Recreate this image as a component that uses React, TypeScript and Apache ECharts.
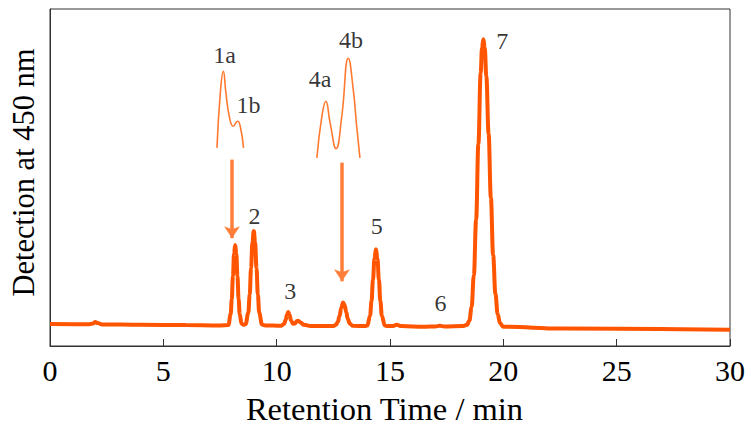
import React, { useEffect, useRef } from "react";
import * as echarts from "echarts";

// Main chromatogram trace: [retention time (min), detector signal (a.u.)]
const mainTrace: [number, number][] = [
  [0, 6.5], [1.7, 6.45], [1.9, 6.7], [2.0, 7.1], [2.1, 6.8], [2.3, 6.4], [4, 6.3], [6, 6.2], [7.5, 6.1],
  [7.87, 6.2], [7.97, 9.4], [8.02, 13.9], [8.07, 20.7], [8.12, 27.4], [8.17, 30.0], [8.22, 27.4],
  [8.27, 20.7], [8.32, 13.9], [8.37, 9.4], [8.45, 6.6], [8.54, 6.3], [8.63, 6.5], [8.75, 9.9],
  [8.81, 15.2], [8.87, 23.1], [8.93, 30.8], [8.99, 34.1], [9.05, 30.8], [9.11, 23.1], [9.17, 15.2],
  [9.23, 9.9], [9.35, 6.4], [9.5, 6.1], [10.2, 6.0], [10.33, 6.6], [10.4, 7.8], [10.45, 9.2],
  [10.51, 10.1], [10.57, 9.2], [10.63, 7.6], [10.72, 6.6], [10.8, 6.7], [10.9, 7.4], [10.95, 7.5],
  [11.05, 7.0], [11.2, 6.3], [11.5, 5.9], [12.5, 5.9], [12.62, 6.3], [12.7, 7.2], [12.77, 8.8],
  [12.85, 11.3], [12.93, 12.9], [13.0, 12.1], [13.07, 10.0], [13.14, 8.0], [13.22, 6.7], [13.35, 6.0],
  [13.9, 5.9], [14.0, 6.1], [14.12, 9.0], [14.185, 13.3], [14.25, 19.7], [14.315, 26.0], [14.38, 28.7],
  [14.445, 26.0], [14.51, 19.7], [14.575, 13.3], [14.64, 9.0], [14.77, 6.1], [14.9, 5.9], [15.1, 5.9],
  [15.3, 6.3], [15.5, 5.9], [16.5, 5.7], [17.0, 5.8], [17.2, 6.0], [17.4, 5.8], [18.2, 5.9],
  [18.4, 6.3], [18.5, 7.5], [18.6, 11.5], [18.7, 21], [18.8, 37.5], [18.9, 60], [19.0, 81],
  [19.06, 88.5], [19.12, 91], [19.18, 88.5], [19.25, 80], [19.35, 63], [19.45, 44], [19.55, 27],
  [19.65, 15.5], [19.75, 9.5], [19.85, 6.8], [20.0, 5.7], [22.6, 5.2], [30, 4.8],
];

// Enlarged insets (drawn in the same axis frame)
const inset1: [number, number][] = [
  [7.366, 58.8], [7.515, 75.1], [7.647, 81.5], [7.761, 75.1], [7.911, 68.1],
  [8.086, 65.2], [8.275, 66.7], [8.393, 65.2], [8.538, 58.8],
];
const inset4: [number, number][] = [
  [11.774, 55.8], [11.993, 68.1], [12.169, 72.6], [12.357, 66.2], [12.621, 58.6],
  [12.871, 68.1], [13.161, 85.4], [13.38, 76.0], [13.53, 65.2], [13.674, 55.8],
];

// Arrows: [x, yStart, yEnd]
const arrows: [number, number, number][] = [
  [8.03, 55.3, 32.0],
  [12.88, 54.4, 19.2],
];

// Peak annotations
const peakLabels: string[] = ["1a", "1b", "4a", "4b", "2", "3", "5", "6", "7"];
const peakLabelPos: [number, number][] = [
  [7.7, 86.4], [8.76, 71.6], [11.92, 79.3], [13.28, 90.8], [9.02, 38.5],
  [10.6, 16.4], [14.42, 35.5], [17.23, 12.7], [19.95, 90.5],
];

const xTicks = { min: 0, max: 30, interval: 5 };

const FONT = "Liberation Serif";

export default function App() {
  const ref = useRef<HTMLDivElement>(null);
  useEffect(() => {
    if (!ref.current) return;
    const chart = echarts.init(ref.current, undefined, { renderer: "svg" });
    chart.setOption({
      animation: false,
      backgroundColor: "#ffffff",
      textStyle: { fontFamily: FONT },
      grid: {
        left: 46.5,
        right: 21,
        top: 9,
        bottom: 83,
        show: true,
        borderColor: "#333",
        borderWidth: 1,
        backgroundColor: "transparent",
      },
      xAxis: {
        type: "value",
        min: xTicks.min,
        max: xTicks.max,
        interval: xTicks.interval,
        name: "Retention Time / min",
        nameLocation: "middle",
        nameGap: 46,
        nameTextStyle: { fontFamily: FONT, fontSize: 32.5, color: "#000", padding: [0, 11, 0, 0] },
        axisLine: { show: true, lineStyle: { color: "#333", width: 1 } },
        axisTick: { show: true, inside: true, length: 7, lineStyle: { color: "#333", width: 1 } },
        axisLabel: { fontFamily: FONT, fontSize: 30, color: "#000", margin: 9 },
        splitLine: { show: false },
      },
      yAxis: {
        type: "value",
        min: 0,
        max: 100,
        name: "Detection at 450 nm",
        nameLocation: "middle",
        nameGap: 11,
        nameTextStyle: { fontFamily: FONT, fontSize: 30.5, color: "#000", padding: [0, 0, 0, 10] },
        axisLine: { show: true, lineStyle: { color: "#333", width: 1 } },
        axisTick: { show: false },
        axisLabel: { show: false },
        splitLine: { show: false },
      },
      series: [
        {
          type: "line",
          data: mainTrace,
          showSymbol: false,
          smooth: 0.4,
          smoothMonotone: "x",
          lineStyle: { color: "#FF5500", width: 4 },
          silent: true,
          markLine: {
            silent: true,
            symbol: ["none", "arrow"],
            symbolSize: 12,
            label: { show: false },
            lineStyle: { color: "#FF7F3A", width: 3.5, type: "solid" },
            data: arrows.map(([x, y0, y1]) => [
              { coord: [x, y0] },
              { coord: [x, y1] },
            ]),
          },
        },
        {
          type: "line",
          data: inset1,
          showSymbol: false,
          smooth: 0.5,
          lineStyle: { color: "#FF7A30", width: 1.6 },
          silent: true,
        },
        {
          type: "line",
          data: inset4,
          showSymbol: false,
          smooth: 0.5,
          lineStyle: { color: "#FF7A30", width: 1.6 },
          silent: true,
        },
        {
          type: "scatter",
          data: peakLabelPos.map((p, i) => ({ value: p, name: peakLabels[i] })),
          symbolSize: 1,
          itemStyle: { color: "transparent" },
          silent: true,
          label: {
            show: true,
            position: "inside",
            formatter: (p: any) => p.name,
            fontFamily: FONT,
            fontSize: 24,
            color: "#000",
          },
        },
      ],
    });
    return () => chart.dispose();
  }, []);
  return (
    <div
      ref={ref}
      style={{ position: "fixed", left: 0, top: 0, width: 751, height: 430 }}
    />
  );
}
